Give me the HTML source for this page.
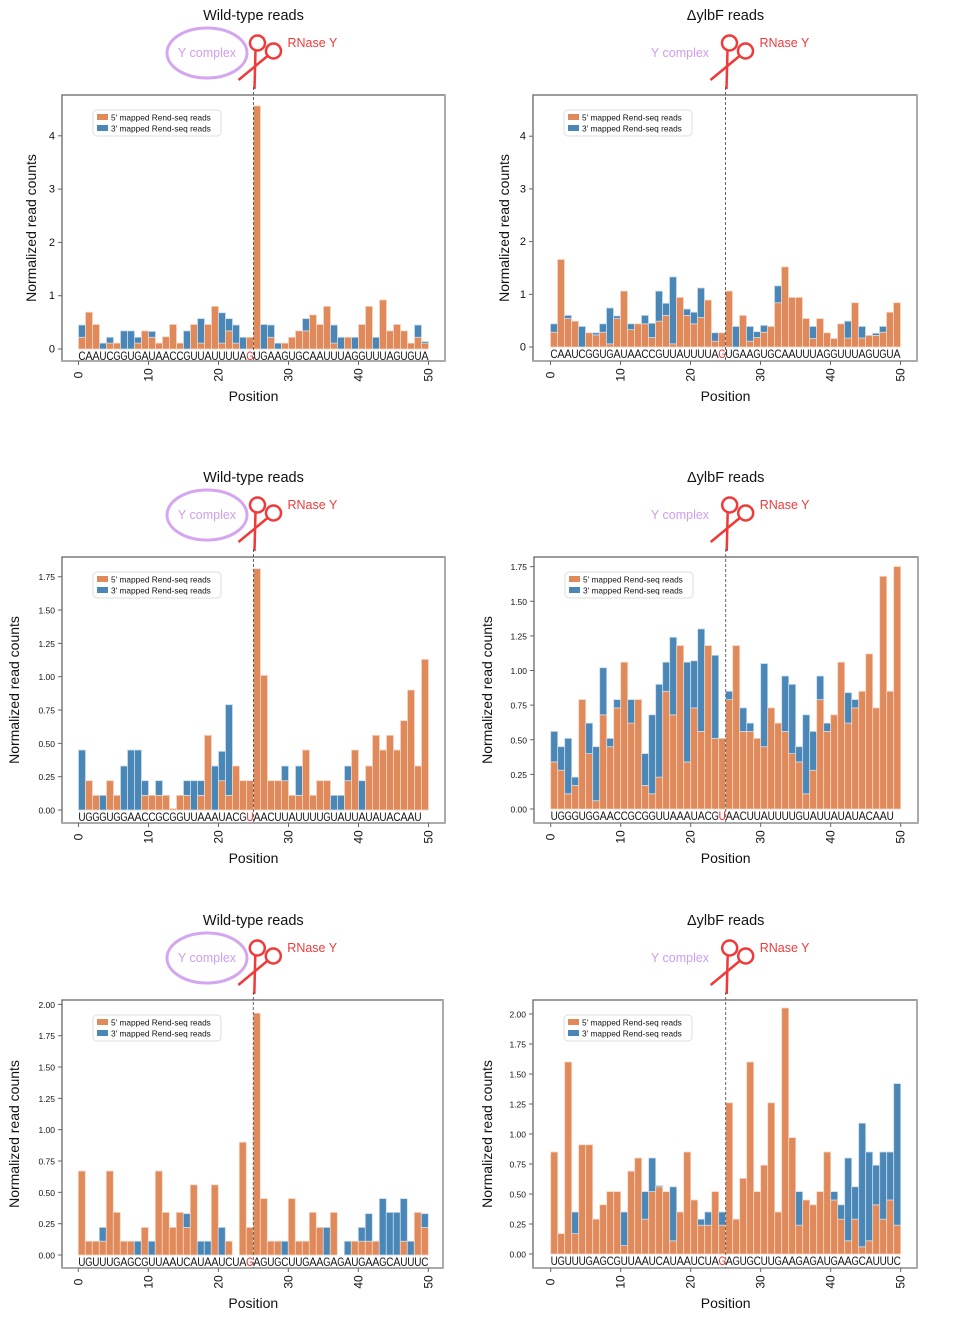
<!DOCTYPE html>
<html><head><meta charset="utf-8"><style>
html,body{margin:0;padding:0;background:#fff;}
svg{display:block;font-family:"Liberation Sans",sans-serif;}
</style></head><body>
<svg id="fig" width="954" height="1318" viewBox="0 0 954 1318"></svg>
<script>
// ---- data ----
const positions = [0,1,2,3,4,5,6,7,8,9,10,11,12,13,14,15,16,17,18,19,20,21,22,23,24,25,26,27,28,29,30,31,32,33,34,35,36,37,38,39,40,41,42,43,44,45,46,47,48,49];
const xTicks = [0,10,20,30,40,50];
const seqA = "CAAUCGGUGAUAACCGUUAUUUUAGUGAAGUGCAAUUUAGGUUUAGUGUA";
const seqB = "UGGGUGGAACCGCGGUUAAAUACGUAACUUAUUUUGUAUUAUAUACAAU";
const seqC = "UGUUUGAGCGUUAAUCAUAAUCUAGAGUGCUUGAAGAGAUGAAGCAUUUC";
const yTicksTop = [0,1,2,3,4];
const yTicksMid = [0,0.25,0.5,0.75,1.0,1.25,1.5,1.75];
const yTicksBot = [0,0.25,0.5,0.75,1.0,1.25,1.5,1.75,2.0];

const wt1_5p = [.22,.69,.46,0,.11,.11,0,0,.11,.34,.22,.11,.23,.46,.11,0,.46,.11,.46,.8,.11,.34,.11,0,.22,4.56,0,.22,0,.11,.22,.34,.34,.64,.46,.8,.11,0,.22,0,.46,.8,0,.92,.34,.46,.34,.11,.22,.11];
const wt1_3p = [.23,0,0,.11,.11,0,.34,.34,.11,0,.11,0,0,0,0,.34,0,.46,0,0,.57,.23,.34,.22,0,0,.46,.23,.11,0,0,0,.23,0,0,0,.34,.22,0,.22,0,0,.22,0,0,0,0,0,.23,.03];
const mu1_5p = [.28,1.66,.54,.49,0,.27,.23,.28,.06,.54,1.06,.33,.44,.44,.18,.49,.6,.06,.94,.6,.44,.56,.89,.11,.27,1.06,0,.6,.11,.18,.28,.39,.84,1.52,.94,.94,.54,.16,.54,.27,.16,.44,.17,.84,.17,.22,.22,.28,.66,.84];
const mu1_3p = [.16,0,.06,0,.39,0,.04,.16,.68,.05,0,.11,0,.16,.27,.57,.23,1.27,0,.12,.22,.56,0,.16,0,0,.39,0,.28,.11,.13,0,.32,0,0,0,0,.23,0,0,0,0,.32,0,.22,0,.04,.11,0,0];
const wt2_5p = [0,.22,.11,0,.22,.11,0,0,0,.11,.11,.11,.11,.01,.11,.11,0,.11,.56,0,.22,.11,.33,.22,.22,1.81,1.01,.22,.22,.22,.11,.11,.45,.11,.22,.22,0,0,.22,.45,0,.33,.56,.45,.56,.45,.67,.9,.33,1.13];
const wt2_3p = [.45,0,0,.11,0,0,.33,.45,.45,.11,0,.11,0,0,0,.11,.22,.11,0,.33,.22,.68,0,0,0,0,0,0,0,.11,0,.22,0,0,0,0,.11,.11,.11,0,.22,0,0,0,0,0,0,0,0,0];
const mu2_5p = [.34,.28,.11,.17,.79,.4,.06,.68,.45,.73,1.06,.62,.79,.17,.11,.23,.85,.68,1.18,.34,.73,.56,1.18,.51,.51,.79,1.18,.56,.56,.51,.45,.73,.62,.56,.4,.34,.11,.28,.79,.56,.68,1.06,.62,.73,.85,1.12,.73,1.68,.85,1.75];
const mu2_3p = [.22,.17,.4,.06,0,.22,.39,.34,.06,.06,0,.17,0,.23,.57,.67,.21,.56,0,.72,.34,.74,0,.6,0,.06,0,.17,.06,0,.6,0,0,.4,.5,.11,.57,.28,.17,.06,0,0,.22,.06,0,0,0,0,0,0];
const wt3_5p = [.67,.11,.11,.11,.67,.34,.11,.11,0,.22,0,.67,.34,.22,.34,.22,.56,0,0,.56,0,.11,0,.9,.22,1.93,.45,.11,.11,0,.45,.11,.11,.34,.22,0,.34,0,0,.11,.11,.11,.11,0,0,0,.11,0,.34,.22];
const wt3_3p = [0,0,0,.11,0,0,0,0,.11,0,.11,0,0,0,0,.11,0,.11,.11,0,.22,0,0,0,0,0,0,0,0,.11,0,0,0,0,0,.22,0,0,.11,0,.11,.22,0,.45,.34,.34,.34,.11,0,.11];
const mu3_5p = [.85,.17,1.6,.17,.91,.91,.29,.41,.52,.52,.07,.69,.8,.29,.52,.56,.52,.11,.35,.85,.45,.24,.24,.52,.24,1.26,.29,.63,1.6,.52,.74,1.26,.35,2.05,.97,.24,.45,.41,.52,.85,.45,.29,.11,.29,.06,.11,.41,.29,.45,.24];
const mu3_3p = [0,0,0,.18,0,0,0,0,0,0,.28,0,0,.23,.28,.01,0,.45,0,0,0,.05,.11,0,.11,0,0,0,0,0,0,0,0,0,0,.28,0,0,0,0,.07,.12,.69,.27,1.03,.74,.33,.56,.4,1.18];

// ---- drawing ----
const NS = "http://www.w3.org/2000/svg";
const svg = document.getElementById('fig');
function mk(tag, attrs, parent){
  const e = document.createElementNS(NS, tag);
  for (const k in attrs) e.setAttribute(k, attrs[k]);
  (parent||svg).appendChild(e);
  return e;
}
const ORANGE = "#e0895b", BLUE = "#4a86b6";

function panel(cfg){
  const g = mk('g', {});
  
  
  const xs = i => cfg.x0 + i*cfg.bw;
  const ys = v => cfg.y0 - v*cfg.k;
  const cx = (xs(0)+xs(50))/2;
  const t = mk('text', {x: cx, y: cfg.top-75, 'text-anchor':'middle', 'font-size':14.5, fill:'#111'}, g);
  t.textContent = cfg.title;
  
  
  const yc = mk('g', {}, g);
  
  
  if (cfg.ellipse) mk('ellipse', {cx: cfg.ycx, cy: cfg.top-42, rx: 40, ry: 25, fill:'none', stroke:'#d4a6f2', 'stroke-width':3}, yc);
  const yt = mk('text', {x: cfg.ycx, y: cfg.top-38, 'text-anchor':'middle', 'font-size':12.5, fill:'#cf9cf0'}, yc);
  yt.textContent = 'Y complex';
  const cut = xs(25);
  const sc = mk('g', {stroke:'#f03a3a', 'stroke-width':2.5, fill:'none'}, g);
  
  
  mk('circle', {cx: cut+4, cy: cfg.top-52, r: 7.5}, sc);
  mk('circle', {cx: cut+20, cy: cfg.top-44, r: 7.5}, sc);
  mk('line', {x1: cut+2, y1: cfg.top-45, x2: cut+1, y2: cfg.top-6}, sc);
  mk('line', {x1: cut+14, y1: cfg.top-39, x2: cut-15, y2: cfg.top-15}, sc);
  const rt = mk('text', {x: cut+34, y: cfg.top-48, 'font-size':12.5, fill:'#f03a3a'}, g);
  rt.textContent = 'RNase Y';
  
  
  mk('rect', {x: cfg.left, y: cfg.top, width: cfg.right-cfg.left, height: cfg.bottom-cfg.top, fill:'#fff', stroke:'#666', 'stroke-width':1.3}, g);
  mk('line', {x1: cfg.right, y1: cfg.top, x2: cfg.right, y2: cfg.bottom, stroke:'#aaa', 'stroke-width':2}, g);
  mk('line', {x1: cfg.left, y1: cfg.bottom, x2: cfg.right, y2: cfg.bottom, stroke:'#aaa', 'stroke-width':2}, g);
  for (let i=0;i<positions.length;i++){
    const p = positions[i];
    const o = cfg.o[i], b = cfg.b[i];
    if (o>0){
      const r = mk('rect', {x: xs(p), y: ys(o), width: cfg.bw, height: ys(0)-ys(o), fill: ORANGE, stroke:'#f6d6c2', 'stroke-width':0.8}, g);
      
      
    }
    if (b>0){
      const r = mk('rect', {x: xs(p), y: ys(o+b), width: cfg.bw, height: ys(o)-ys(o+b), fill: BLUE, stroke:'#c8dcec', 'stroke-width':0.8}, g);
      
      
    }
  }
  const sq = mk('g', {'font-size':11.5, 'text-anchor':'middle'}, g);
  
  
  for (let i=0;i<cfg.seq.length;i++){
    const s = mk('text', {x: xs(i)+cfg.bw/2, y: cfg.y0+11, fill: i===24?'#f02020':'#111', textLength: 7.2, lengthAdjust:'spacingAndGlyphs'}, sq);
    s.textContent = cfg.seq[i];
  }
  mk('line', {x1: cut, y1: cfg.top-8, x2: cut, y2: cfg.bottom, stroke:'#555', 'stroke-width':0.9, 'stroke-dasharray':'3,2'}, g);
  xTicks.forEach(v=>{
    mk('line', {x1: xs(v), y1: cfg.bottom, x2: xs(v), y2: cfg.bottom+4, stroke:'#666'}, g);
    const tx = mk('text', {x: 0, y: 0, 'font-size':12, fill:'#111', 'text-anchor':'middle', transform:`translate(${xs(v)+4},${cfg.bottom+14}) rotate(-90)`}, g);
    tx.textContent = v;
    
    
  });
  const xl = mk('text', {x: cx, y: cfg.bottom+40, 'text-anchor':'middle', 'font-size':14, fill:'#111'}, g);
  xl.textContent = 'Position';
  
  
  cfg.yt.forEach(v=>{
    mk('line', {x1: cfg.left-4, y1: ys(v), x2: cfg.left, y2: ys(v), stroke:'#666'}, g);
    const ty = mk('text', {x: cfg.left-7, y: ys(v)+3.5, 'text-anchor':'end', 'font-size':cfg.ytf, fill:'#111'}, g);
    ty.textContent = cfg.ydec ? v.toFixed(2) : v;
    
    
  });
  const yl = mk('text', {x:0, y:0, 'text-anchor':'middle', 'font-size':14, fill:'#111', transform:`translate(${cfg.ylx},${(cfg.top+cfg.bottom)/2}) rotate(-90)`}, g);
  yl.textContent = 'Normalized read counts';
  
  
  const lg = mk('g', {}, g);
  
  
  const lx = cfg.left+31, ly = cfg.top+15;
  mk('rect', {x: lx, y: ly, width: 128, height: 26, rx: 4, fill:'#fff', stroke:'#ddd'}, lg);
  mk('rect', {x: lx+4, y: ly+4, width: 11, height: 6, fill: ORANGE}, lg);
  mk('rect', {x: lx+4, y: ly+15, width: 11, height: 6, fill: BLUE}, lg);
  const l1 = mk('text', {x: lx+18, y: ly+10.5, 'font-size':8.3, fill:'#111'}, lg);
  l1.textContent = "5' mapped Rend-seq reads";
  const l2 = mk('text', {x: lx+18, y: ly+21.5, 'font-size':8.3, fill:'#111'}, lg);
  l2.textContent = "3' mapped Rend-seq reads";
}

panel({name:'wt-panel-1', title:'Wild-type reads', ellipse:true, ycx:207, left:62, right:445, top:95, bottom:361, x0:78.5, bw:7, y0:349, k:53.3, yt:yTicksTop, ydec:false, ytf:11, ylx:36, seq:seqA, o:wt1_5p, b:wt1_3p});
panel({name:'ylbf-panel-1', title:'ΔylbF reads', ellipse:false, ycx:680, left:533, right:917, top:95, bottom:361, x0:550.5, bw:7, y0:347, k:52.7, yt:yTicksTop, ydec:false, ytf:11, ylx:509, seq:seqA, o:mu1_5p, b:mu1_3p});
panel({name:'wt-panel-2', title:'Wild-type reads', ellipse:true, ycx:207, left:62, right:445, top:557, bottom:823, x0:78.5, bw:7, y0:810, k:133.3, yt:yTicksMid, ydec:true, ytf:8.5, ylx:19, seq:seqB, o:wt2_5p, b:wt2_3p});
panel({name:'ylbf-panel-2', title:'ΔylbF reads', ellipse:false, ycx:680, left:534, right:918, top:557, bottom:823, x0:550.7, bw:7, y0:809, k:138.5, yt:yTicksMid, ydec:true, ytf:8.5, ylx:492, seq:seqB, o:mu2_5p, b:mu2_3p});
panel({name:'wt-panel-3', title:'Wild-type reads', ellipse:true, ycx:207, left:62, right:443, top:1000, bottom:1268, x0:78.3, bw:7, y0:1255, k:125.3, yt:yTicksBot, ydec:true, ytf:8.5, ylx:19, seq:seqC, o:wt3_5p, b:wt3_3p});
panel({name:'ylbf-panel-3', title:'ΔylbF reads', ellipse:false, ycx:680, left:533, right:917, top:1000, bottom:1268, x0:550.7, bw:7, y0:1254, k:120, yt:yTicksBot, ydec:true, ytf:8.5, ylx:492, seq:seqC, o:mu3_5p, b:mu3_3p});
</script>
</body></html>
